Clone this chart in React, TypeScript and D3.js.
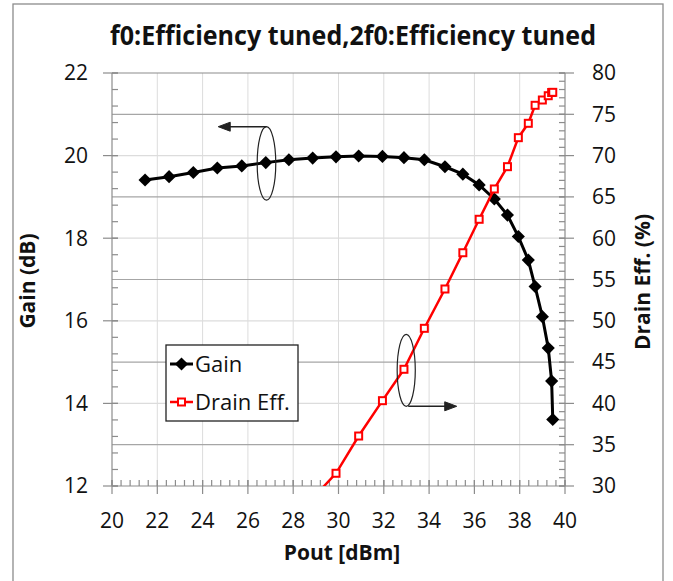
import { useEffect, useRef } from "react";
import * as d3 from "d3";

// Pout [dBm] sweep points (shared by both series)
const pout = [
  21.46, 22.52, 23.59, 24.65, 25.73, 26.79, 27.81, 28.86, 29.89, 30.89, 31.94, 32.89, 33.79,
  34.7, 35.49, 36.21, 36.88, 37.46, 37.94, 38.38, 38.68, 39.0, 39.26, 39.41, 39.46,
];
const gain = [
  19.41, 19.49, 19.59, 19.7, 19.75, 19.83, 19.9, 19.94, 19.97, 19.99, 19.98, 19.95, 19.9,
  19.73, 19.55, 19.29, 18.95, 18.56, 18.04, 17.47, 16.83, 16.1, 15.34, 14.54, 13.61,
];
// drain efficiency starts at the 8th sweep point (first one is below the axis)
const effStart = 7;
const drainEff = [
  28.5, 31.54, 36.05, 40.33, 44.13, 49.09, 53.85, 58.24, 62.29, 65.96, 68.66, 72.17, 73.91,
  76.09, 76.73, 77.25, 77.64, 77.66,
];
const xTicks = [20, 22, 24, 26, 28, 30, 32, 34, 36, 38, 40];
const gainTicks = [12, 14, 16, 18, 20, 22];
const effTicks = [30, 35, 40, 45, 50, 55, 60, 65, 70, 75, 80];

const W = 673;
const H = 581;
const plot = { left: 112, right: 565, top: 73, bottom: 486 };
const font = "'Open Sans', 'DejaVu Sans', sans-serif";

export default function App() {
  const svgRef = useRef<SVGSVGElement>(null);

  useEffect(() => {
    const svg = d3.select(svgRef.current);
    svg.selectAll("*").remove();

    const x = d3.scaleLinear().domain([20, 40]).range([plot.left, plot.right]);
    const yL = d3.scaleLinear().domain([12, 22]).range([plot.bottom, plot.top]);
    const yR = d3.scaleLinear().domain([30, 80]).range([plot.bottom, plot.top]);

    svg.append("rect").attr("width", W).attr("height", H).attr("fill", "#fff");
    // outer frame
    svg
      .append("rect")
      .attr("x", 13)
      .attr("y", 4)
      .attr("width", 650)
      .attr("height", H + 10)
      .attr("fill", "none")
      .attr("stroke", "#8c8c8c")
      .attr("stroke-width", 1.3);

    svg
      .append("defs")
      .append("clipPath")
      .attr("id", "clip")
      .append("rect")
      .attr("x", plot.left)
      .attr("y", plot.top)
      .attr("width", plot.right - plot.left)
      .attr("height", plot.bottom - plot.top);

    // Gridlines
    const grid = svg.append("g");
    xTicks.slice(1, -1).forEach((t) => {
      grid
        .append("line")
        .attr("x1", x(t))
        .attr("x2", x(t))
        .attr("y1", plot.top)
        .attr("y2", plot.bottom)
        .attr("stroke", "#dcdcdc")
        .attr("stroke-width", 1);
    });
    gainTicks.slice(1, -1).forEach((t) => {
      grid
        .append("line")
        .attr("x1", plot.left)
        .attr("x2", plot.right)
        .attr("y1", yL(t))
        .attr("y2", yL(t))
        .attr("stroke", "#dcdcdc")
        .attr("stroke-width", 1.2);
    });
    effTicks
      .filter((t) => t % 10 === 5)
      .forEach((t) => {
        grid
          .append("line")
          .attr("x1", plot.left)
          .attr("x2", plot.right)
          .attr("y1", yR(t))
          .attr("y2", yR(t))
          .attr("stroke", "#a6a6a6")
          .attr("stroke-width", 1.2);
      });

    // Axes lines + ticks
    const axisColor = "#8c8c8c";
    const ax = svg.append("g").attr("stroke", axisColor).attr("stroke-width", 1.2);
    ax.append("line").attr("x1", plot.left).attr("x2", plot.right).attr("y1", plot.top).attr("y2", plot.top);
    ax.append("line").attr("x1", plot.left).attr("x2", plot.right).attr("y1", plot.bottom).attr("y2", plot.bottom);
    ax.append("line").attr("x1", plot.left).attr("x2", plot.left).attr("y1", plot.top).attr("y2", plot.bottom);
    ax.append("line").attr("x1", plot.right).attr("x2", plot.right).attr("y1", plot.top).attr("y2", plot.bottom);

    d3.range(20, 40.001, 0.4).forEach((t) => {
      ax.append("line").attr("x1", x(t)).attr("x2", x(t)).attr("y1", plot.bottom - 6).attr("y2", plot.bottom);
    });
    xTicks.forEach((t) => {
      ax.append("line").attr("x1", x(t)).attr("x2", x(t)).attr("y1", plot.bottom - 6).attr("y2", plot.bottom + 8);
    });
    d3.range(12, 22.001, 0.4).forEach((t) => {
      ax.append("line").attr("x1", plot.left).attr("x2", plot.left + 6).attr("y1", yL(t)).attr("y2", yL(t));
    });
    gainTicks.forEach((t) => {
      ax.append("line").attr("x1", plot.left - 9).attr("x2", plot.left + 6).attr("y1", yL(t)).attr("y2", yL(t));
    });
    d3.range(30, 80.001, 1).forEach((t) => {
      ax.append("line").attr("x1", plot.right - 6).attr("x2", plot.right).attr("y1", yR(t)).attr("y2", yR(t));
    });
    effTicks.forEach((t) => {
      ax.append("line").attr("x1", plot.right - 6).attr("x2", plot.right + 9).attr("y1", yR(t)).attr("y2", yR(t));
    });

    // Tick labels
    const labels = svg.append("g").attr("font-family", font).attr("font-size", 21).attr("fill", "#111");
    xTicks.forEach((t) => {
      labels
        .append("text")
        .attr("x", x(t))
        .attr("y", 521)
        .attr("dy", "0.35em")
        .attr("text-anchor", "middle")
        .text(t);
    });
    gainTicks.forEach((t) => {
      labels
        .append("text")
        .attr("x", 88)
        .attr("y", yL(t))
        .attr("dy", "0.35em")
        .attr("text-anchor", "end")
        .text(t);
    });
    effTicks.forEach((t) => {
      labels
        .append("text")
        .attr("x", 592)
        .attr("y", yR(t))
        .attr("dy", "0.35em")
        .attr("text-anchor", "start")
        .text(t);
    });

    // Titles
    svg
      .append("text")
      .attr("x", 353)
      .attr("y", 45)
      .attr("text-anchor", "middle")
      .attr("font-family", font)
      .attr("font-weight", "bold")
      .attr("font-size", 26)
      .attr("textLength", 486)
      .attr("lengthAdjust", "spacingAndGlyphs")
      .attr("fill", "#111")
      .text("f0:Efficiency tuned,2f0:Efficiency tuned");
    svg
      .append("text")
      .attr("x", 342)
      .attr("y", 553)
      .attr("dy", "0.35em")
      .attr("text-anchor", "middle")
      .attr("font-family", font)
      .attr("font-weight", "bold")
      .attr("font-size", 21)
      .attr("fill", "#111")
      .text("Pout [dBm]");
    svg
      .append("text")
      .attr("transform", "translate(28,281) rotate(-90)")
      .attr("dy", "0.35em")
      .attr("text-anchor", "middle")
      .attr("font-family", font)
      .attr("font-weight", "bold")
      .attr("font-size", 21)
      .attr("fill", "#111")
      .text("Gain (dB)");
    svg
      .append("text")
      .attr("transform", "translate(643,282) rotate(-90)")
      .attr("dy", "0.35em")
      .attr("text-anchor", "middle")
      .attr("font-family", font)
      .attr("font-weight", "bold")
      .attr("font-size", 21)
      .attr("fill", "#111")
      .text("Drain Eff. (%)");

    // Gain series
    const gainPts = pout.map((p, i) => [p, gain[i]] as [number, number]);
    const gainLine = d3
      .line<[number, number]>()
      .x((d) => x(d[0]))
      .y((d) => yL(d[1]));
    svg
      .append("path")
      .attr("d", gainLine(gainPts))
      .attr("fill", "none")
      .attr("stroke", "#000")
      .attr("stroke-width", 3);
    const diamond = d3.symbol().type(d3.symbolDiamond2).size(110);
    svg
      .append("g")
      .selectAll("path")
      .data(gainPts)
      .enter()
      .append("path")
      .attr("transform", (d) => `translate(${x(d[0])},${yL(d[1])})`)
      .attr("d", diamond)
      .attr("fill", "#000");

    // Drain efficiency series
    const effPts = drainEff.map((e, i) => [pout[i + effStart], e] as [number, number]);
    const effLine = d3
      .line<[number, number]>()
      .x((d) => x(d[0]))
      .y((d) => yR(d[1]));
    const effG = svg.append("g").attr("clip-path", "url(#clip)");
    effG
      .append("path")
      .attr("d", effLine(effPts))
      .attr("fill", "none")
      .attr("stroke", "#ff0000")
      .attr("stroke-width", 2.5);
    effG
      .selectAll("rect")
      .data(effPts)
      .enter()
      .append("rect")
      .attr("x", (d) => x(d[0]) - 3.5)
      .attr("y", (d) => yR(d[1]) - 3.5)
      .attr("width", 7)
      .attr("height", 7)
      .attr("fill", "#fff")
      .attr("stroke", "#ff0000")
      .attr("stroke-width", 2);

    // Annotations: ellipse + arrow pointing to the axis each curve uses
    const ann = svg.append("g").attr("stroke", "#222").attr("fill", "none");
    const e1 = { cx: 26.82, cy: 19.81, rx: 0.41, ry: 0.89, tip: 24.69 };
    ann
      .append("ellipse")
      .attr("cx", x(e1.cx))
      .attr("cy", yL(e1.cy))
      .attr("rx", x(e1.cx + e1.rx) - x(e1.cx))
      .attr("ry", yL(e1.cy) - yL(e1.cy + e1.ry))
      .attr("stroke-width", 1.2);
    const top1 = yL(e1.cy + e1.ry);
    ann
      .append("line")
      .attr("x1", x(e1.cx))
      .attr("x2", x(e1.tip) + 10)
      .attr("y1", top1)
      .attr("y2", top1)
      .attr("stroke-width", 1.5);
    ann
      .append("path")
      .attr("d", `M${x(e1.tip)},${top1} l12,-4.5 l0,9 Z`)
      .attr("fill", "#222");

    const e2 = { cx: 32.99, cy: 14.8, rx: 0.4, ry: 0.87, tip: 35.22 };
    ann
      .append("ellipse")
      .attr("cx", x(e2.cx))
      .attr("cy", yL(e2.cy))
      .attr("rx", x(e2.cx + e2.rx) - x(e2.cx))
      .attr("ry", yL(e2.cy) - yL(e2.cy + e2.ry))
      .attr("stroke-width", 1.2);
    const bot2 = yL(e2.cy - e2.ry);
    ann
      .append("line")
      .attr("x1", x(e2.cx) + 2)
      .attr("x2", x(e2.tip) - 10)
      .attr("y1", bot2)
      .attr("y2", bot2)
      .attr("stroke-width", 1.5);
    ann
      .append("path")
      .attr("d", `M${x(e2.tip)},${bot2} l-12,-4.5 l0,9 Z`)
      .attr("fill", "#222");

    // Legend
    const lg = svg.append("g");
    lg.append("rect")
      .attr("x", 166)
      .attr("y", 345)
      .attr("width", 132)
      .attr("height", 76)
      .attr("fill", "#fff")
      .attr("stroke", "#222")
      .attr("stroke-width", 1.3);
    lg.append("line").attr("x1", 170).attr("x2", 193).attr("y1", 364).attr("y2", 364).attr("stroke", "#000").attr("stroke-width", 3);
    lg.append("path")
      .attr("transform", "translate(181.5,364)")
      .attr("d", diamond)
      .attr("fill", "#000");
    lg.append("line").attr("x1", 170).attr("x2", 193).attr("y1", 402).attr("y2", 402).attr("stroke", "#ff0000").attr("stroke-width", 2.5);
    lg.append("rect")
      .attr("x", 178)
      .attr("y", 398.5)
      .attr("width", 7)
      .attr("height", 7)
      .attr("fill", "#fff")
      .attr("stroke", "#ff0000")
      .attr("stroke-width", 2);
    lg.append("text")
      .attr("x", 195)
      .attr("y", 364)
      .attr("dy", "0.35em")
      .attr("font-family", font)
      .attr("font-size", 22)
      .attr("fill", "#111")
      .text("Gain");
    lg.append("text")
      .attr("x", 195)
      .attr("y", 402)
      .attr("dy", "0.35em")
      .attr("font-family", font)
      .attr("font-size", 22)
      .attr("fill", "#111")
      .text("Drain Eff.");
  }, []);

  return (
    <div style={{ position: "fixed", left: 0, top: 0, width: W, height: H, overflow: "hidden" }}>
      <svg ref={svgRef} width={W} height={H} style={{ display: "block" }} />
    </div>
  );
}
